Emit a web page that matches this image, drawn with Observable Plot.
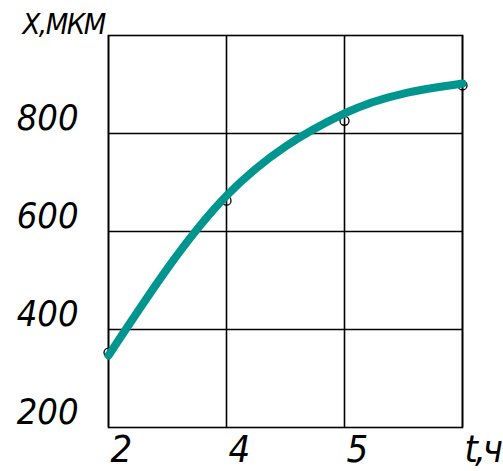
<!DOCTYPE html>
<html>
<head>
<meta charset="utf-8">
<script src="https://cdn.jsdelivr.net/npm/d3@7"></script>
<script src="https://cdn.jsdelivr.net/npm/@observablehq/plot@0.6"></script>
<style>
  html, body { margin: 0; padding: 0; background: #fff; }
  #chart svg text { font-stretch: condensed; }
  #chart .xax text { letter-spacing: -3px; }
  #chart .ttl text { letter-spacing: -1.5px; }
</style>
</head>
<body>
<div id="chart"></div>
<script>
const xCats = ["2", "4", "5", "6"];
const xTickLabels = ["2", "4", "5", "t,ч"];
const measured = [353, 663, 826, 898];
const fitted = [347, 673, 841, 902];
const yTicks = [200, 400, 600, 800];
const yTitle = "X,МКМ";

const pts = xCats.map((x, i) => ({x, y: measured[i]}));
const fit = xCats.map((x, i) => ({x, y: fitted[i]}));

const font = "'DejaVu Sans Condensed', 'Liberation Sans Narrow', sans-serif";

const chart = Plot.plot({
  width: 503,
  height: 471,
  marginLeft: 108,
  marginRight: 41,
  marginTop: 35,
  marginBottom: 44,
  style: {fontFamily: font, fontStyle: "italic", background: "#fff", color: "#000"},
  x: {type: "point", domain: xCats, padding: 0, label: null},
  y: {domain: [200, 1000], label: null},
  marks: [
    Plot.gridX(xCats, {stroke: "#000", strokeOpacity: 1, strokeWidth: 1.6}),
    Plot.gridY([400, 600, 800], {stroke: "#000", strokeOpacity: 1, strokeWidth: 1.6}),
    Plot.frame({stroke: "#000", strokeWidth: 1.6}),
    Plot.dot(pts, {x: "x", y: "y", r: 4.5, stroke: "#000", strokeWidth: 1.3, fill: "none"}),
    Plot.line(fit, {x: "x", y: "y", curve: "monotone-x", stroke: "#00968f", strokeWidth: 8, strokeLinecap: "round"}),
    Plot.axisY(yTicks, {tickSize: 0, tickPadding: 30, dy: -15, fontSize: 36, fontStyle: "italic", fill: "#000", label: null}),
    Plot.axisX(xCats, {className: "xax", tickSize: 0, tickPadding: 8, textAnchor: "start", dx: 2, fontSize: 38, fontStyle: "italic", fill: "#000", label: null,
      tickFormat: (d) => xTickLabels[xCats.indexOf(d)]}),
    Plot.text([yTitle], {className: "ttl", frameAnchor: "top-left", text: d => d, textAnchor: "start", lineAnchor: "middle", dx: -86, dy: -11, fontSize: 29, fontStyle: "italic", fill: "#000"})
  ]
});
document.getElementById("chart").appendChild(chart);
</script>
</body>
</html>
